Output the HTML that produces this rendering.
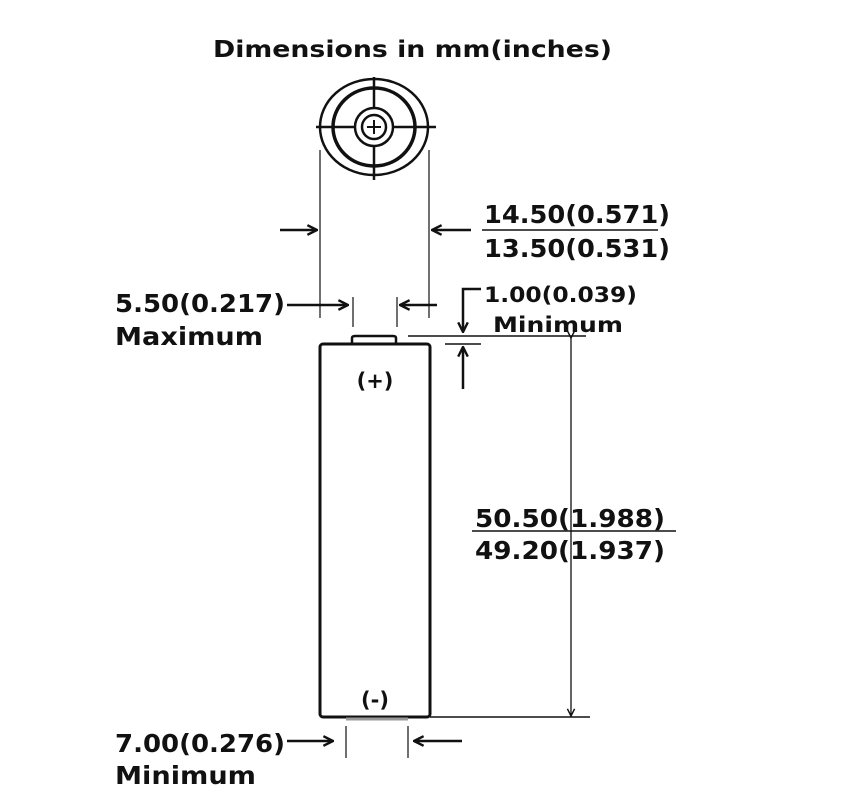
<!DOCTYPE html>
<html><head><meta charset="utf-8"><style>
html,body{margin:0;padding:0;background:#fff;}
svg{display:block;}
text{font-family:"DejaVu Sans","Liberation Sans",sans-serif;font-weight:bold;fill:#111;}
</style></head><body>
<svg width="859" height="804" viewBox="0 0 859 804" xmlns="http://www.w3.org/2000/svg">
<defs>
<marker id="ah" viewBox="0 0 10 10" refX="9" refY="5" markerWidth="12" markerHeight="12" markerUnits="userSpaceOnUse" orient="auto">
<path d="M1,1 L9,5 L1,9" fill="none" stroke="#111" stroke-width="2"/>
</marker>
<marker id="ahs" viewBox="0 0 10 10" refX="9" refY="5" markerWidth="9" markerHeight="9" markerUnits="userSpaceOnUse" orient="auto">
<path d="M1,1 L9,5 L1,9" fill="none" stroke="#111" stroke-width="1.6"/>
</marker>
</defs>
<text x="213" y="57" font-size="23" textLength="399" lengthAdjust="spacingAndGlyphs">Dimensions  in  mm(inches)</text>

<!-- top view -->
<g fill="none" stroke="#111">
<ellipse cx="374" cy="127" rx="54" ry="48" stroke-width="2.5"/>
<ellipse cx="374" cy="127" rx="41" ry="39" stroke-width="3.5"/>
<ellipse cx="374" cy="127" rx="19" ry="19" stroke-width="2.5"/>
<ellipse cx="374" cy="127" rx="12" ry="12" stroke-width="2.5"/>
<line x1="316" y1="127" x2="355" y2="127" stroke-width="2.5"/>
<line x1="393" y1="127" x2="436" y2="127" stroke-width="2.5"/>
<line x1="374" y1="77" x2="374" y2="108" stroke-width="2.5"/>
<line x1="374" y1="146" x2="374" y2="180" stroke-width="2.5"/>
<line x1="367" y1="127" x2="381" y2="127" stroke-width="2"/>
<line x1="374" y1="120" x2="374" y2="134" stroke-width="2"/>
</g>
<g stroke="#111" stroke-width="1.2">
<line x1="320" y1="150" x2="320" y2="318"/>
<line x1="429" y1="150" x2="429" y2="318"/>
<line x1="353" y1="297" x2="353" y2="327"/>
<line x1="397" y1="297" x2="397" y2="327"/>
<line x1="346" y1="726" x2="346" y2="758"/>
<line x1="408" y1="726" x2="408" y2="758"/>
</g>
<g stroke="#111" stroke-width="2.5" fill="none">
<line x1="280" y1="230" x2="317" y2="230" marker-end="url(#ah)"/>
<line x1="471" y1="230" x2="432" y2="230" marker-end="url(#ah)"/>
<line x1="287" y1="305" x2="348" y2="305" marker-end="url(#ah)"/>
<line x1="437" y1="305" x2="400" y2="305" marker-end="url(#ah)"/>
<line x1="287" y1="741" x2="333" y2="741" marker-end="url(#ah)"/>
<line x1="462" y1="741" x2="414" y2="741" marker-end="url(#ah)"/>
<polyline points="481,289 463,289 463,332" marker-end="url(#ah)"/>
<line x1="463" y1="389" x2="463" y2="347" marker-end="url(#ah)"/>
</g>
<g stroke="#111" stroke-width="1.5">
<line x1="408" y1="336" x2="586" y2="336"/>
<line x1="445" y1="344" x2="481" y2="344"/>
<line x1="430" y1="717" x2="590" y2="717"/>
<line x1="482" y1="230" x2="658" y2="230"/>
<line x1="472" y1="531" x2="676" y2="531"/>
</g>
<line x1="571" y1="338" x2="571" y2="716" stroke="#111" stroke-width="1.3" marker-start="url(#ahs)" marker-end="url(#ahs)"/>

<!-- battery -->
<path d="M352,344 L352,338 Q352,336 355,336 L393,336 Q396,336 396,338 L396,344" fill="none" stroke="#111" stroke-width="2.5"/>
<rect x="320" y="344" width="110" height="373" rx="3" fill="none" stroke="#111" stroke-width="3"/>
<line x1="346" y1="719" x2="408" y2="719" stroke="#999" stroke-width="3"/>
<text x="375" y="388" font-size="21" text-anchor="middle">(+)</text>
<text x="375" y="707" font-size="21" text-anchor="middle">(-)</text>

<!-- labels -->
<text x="484" y="223" font-size="25" textLength="186" lengthAdjust="spacingAndGlyphs">14.50(0.571)</text>
<text x="484" y="257" font-size="25" textLength="186" lengthAdjust="spacingAndGlyphs">13.50(0.531)</text>
<text x="115" y="312" font-size="25" textLength="170" lengthAdjust="spacingAndGlyphs">5.50(0.217)</text>
<text x="115" y="345" font-size="25" textLength="148" lengthAdjust="spacingAndGlyphs">Maximum</text>
<text x="484" y="302" font-size="21" textLength="153" lengthAdjust="spacingAndGlyphs">1.00(0.039)</text>
<text x="493" y="332" font-size="21" textLength="130" lengthAdjust="spacingAndGlyphs">Minimum</text>
<text x="475" y="527" font-size="25" textLength="190" lengthAdjust="spacingAndGlyphs">50.50(1.988)</text>
<text x="475" y="559" font-size="25" textLength="190" lengthAdjust="spacingAndGlyphs">49.20(1.937)</text>
<text x="115" y="752" font-size="25" textLength="170" lengthAdjust="spacingAndGlyphs">7.00(0.276)</text>
<text x="115" y="784" font-size="25" textLength="141" lengthAdjust="spacingAndGlyphs">Minimum</text>
</svg>
</body></html>
